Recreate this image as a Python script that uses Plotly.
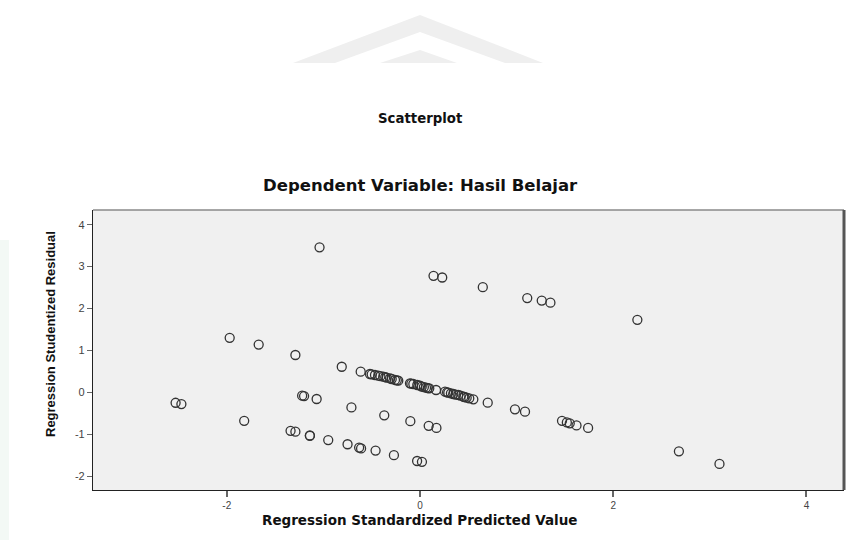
import plotly.graph_objects as go

# Regression Standardized Predicted Value (x) and Regression Studentized Residual (y)
pred_values = [
    -1.04, -1.97, -1.67, -1.29, -0.81,
    -0.614, -0.518, -0.50, -0.466, -0.432, -0.41, -0.380, -0.36, -0.345, -0.31, -0.293, -0.259, -0.24, -0.225,
    -0.104, -0.09, -0.069, -0.028, 0.00, 0.018, 0.04, 0.062, 0.08, 0.096, 0.166,
    0.259, 0.28, 0.293, 0.32, 0.345, 0.37, 0.396, 0.42, 0.448, 0.46, 0.483, 0.51, 0.552,
    0.701, 0.983, 1.087,
    -2.53, -2.47, -1.82, -1.22, -1.20, -1.07, -0.71, -0.37, -0.10, 0.09, 0.17,
    1.47, 1.52, 1.55, 1.62, 1.74,
    -1.34, -1.29, -1.14, -1.14, -0.95, -0.75, -0.63, -0.61, -0.46, -0.27, -0.03, 0.02,
    0.14, 0.23, 0.65, 1.11, 1.26, 1.35, 2.25,
    2.68, 3.10,
]
resid_values = [
    3.46, 1.30, 1.14, 0.89, 0.61,
    0.492, 0.437, 0.43, 0.413, 0.396, 0.385, 0.372, 0.36, 0.348, 0.33, 0.317, 0.294, 0.285, 0.277,
    0.215, 0.205, 0.198, 0.174, 0.16, 0.134, 0.125, 0.110, 0.10, 0.095, 0.055,
    0.014, 0.00, -0.010, -0.025, -0.041, -0.055, -0.064, -0.08, -0.105, -0.112, -0.129, -0.145, -0.167,
    -0.248, -0.406, -0.463,
    -0.25, -0.28, -0.68, -0.08, -0.09, -0.16, -0.36, -0.55, -0.69, -0.80, -0.85,
    -0.68, -0.72, -0.74, -0.79, -0.85,
    -0.92, -0.94, -1.03, -1.04, -1.14, -1.24, -1.32, -1.34, -1.39, -1.50, -1.64, -1.66,
    2.78, 2.74, 2.51, 2.25, 2.19, 2.14, 1.73,
    -1.41, -1.71,
]

x_ticks = [-2, 0, 2, 4]
y_ticks = [-2, -1, 0, 1, 2, 3, 4]

main_title = "Scatterplot"
sub_title = "Dependent Variable: Hasil Belajar"
x_title = "Regression Standardized Predicted Value"
y_title = "Regression Studentized Residual"

fig = go.Figure()
fig.add_trace(go.Scatter(
    x=pred_values, y=resid_values, mode="markers",
    marker=dict(symbol="circle-open", size=9, color="#333333", line=dict(width=1.3, color="#333333")),
    hoverinfo="x+y", showlegend=False,
))

W, H = 847, 540
L, R, T, B = 93, 3, 210, 50
ph = H - T - B
pw = W - L - R

def py(pix):
    return (H - B - pix) / ph

def px(pix):
    return (pix - L) / pw

wide = "DejaVu Sans, Verdana, sans-serif"
annots = [
    dict(text=f"<b>{main_title}</b>", x=px(420), y=py(118), xref="paper", yref="paper",
         showarrow=False, xanchor="center", yanchor="middle",
         font=dict(family=wide, size=13.3, color="#111111")),
    dict(text=f"<b>{sub_title}</b>", x=px(420), y=py(185), xref="paper", yref="paper",
         showarrow=False, xanchor="center", yanchor="middle",
         font=dict(family=wide, size=16.5, color="#111111")),
    dict(text=f"<b>{x_title}</b>", x=px(420), y=py(520), xref="paper", yref="paper",
         showarrow=False, xanchor="center", yanchor="middle",
         font=dict(family=wide, size=13.5, color="#111111")),
    dict(text=f"<b>{y_title}</b>", x=px(50), y=py(334), xref="paper", yref="paper",
         showarrow=False, xanchor="center", yanchor="middle", textangle=-90,
         font=dict(family="Liberation Sans, Arial, sans-serif", size=13, color="#111111")),
]

wm = "#efefef"
shapes = [
    # faint watermark chevrons at top
    dict(type="path", xref="paper", yref="paper", layer="below",
         path=f"M {px(293)},{py(63)} L {px(420)},{py(15)} L {px(543)},{py(63)} L {px(505)},{py(63)} L {px(420)},{py(32)} L {px(335)},{py(63)} Z",
         fillcolor=wm, line=dict(width=0)),
    dict(type="path", xref="paper", yref="paper", layer="below",
         path=f"M {px(380)},{py(63)} L {px(420)},{py(50)} L {px(457)},{py(63)} Z",
         fillcolor=wm, line=dict(width=0)),
    # faint left strip
    dict(type="rect", xref="paper", yref="paper", layer="below",
         x0=px(0), x1=px(9), y0=py(540), y1=py(240), fillcolor="#f3f9f5", line=dict(width=0)),
    # top border (gray) and right border (thick dark)
    dict(type="line", xref="paper", yref="paper", x0=0, x1=1, y0=1, y1=1,
         line=dict(color="#8a8a8a", width=1.5)),
    dict(type="line", xref="paper", yref="paper", x0=1, x1=1, y0=0, y1=1,
         line=dict(color="#555555", width=3)),
]

fig.update_layout(
    width=W, height=H,
    margin=dict(l=L, r=R, t=T, b=B, pad=0),
    paper_bgcolor="white",
    plot_bgcolor="#f0f0f0",
    annotations=annots,
    shapes=shapes,
    xaxis=dict(range=[-3.385, 4.389], tickvals=x_ticks, ticktext=[str(v) for v in x_ticks],
               showgrid=False, zeroline=False, showline=True, linecolor="#222222", linewidth=1.2,
               ticks="outside", ticklen=6, tickcolor="#666666", tickwidth=1.5,
               tickfont=dict(family="Liberation Sans, Arial, sans-serif", size=10, color="#444444")),
    yaxis=dict(range=[-2.332, 4.351], tickvals=y_ticks, ticktext=[str(v) for v in y_ticks],
               showgrid=False, zeroline=False, showline=True, linecolor="#222222", linewidth=1.2,
               ticks="outside", ticklen=5, tickcolor="#666666", tickwidth=1,
               tickfont=dict(family="Liberation Sans, Arial, sans-serif", size=11, color="#444444")),
)

fig.write_html("out.html", config={"displayModeBar": False},
               post_script="document.body.style.margin='0';document.body.style.overflow='hidden';")
